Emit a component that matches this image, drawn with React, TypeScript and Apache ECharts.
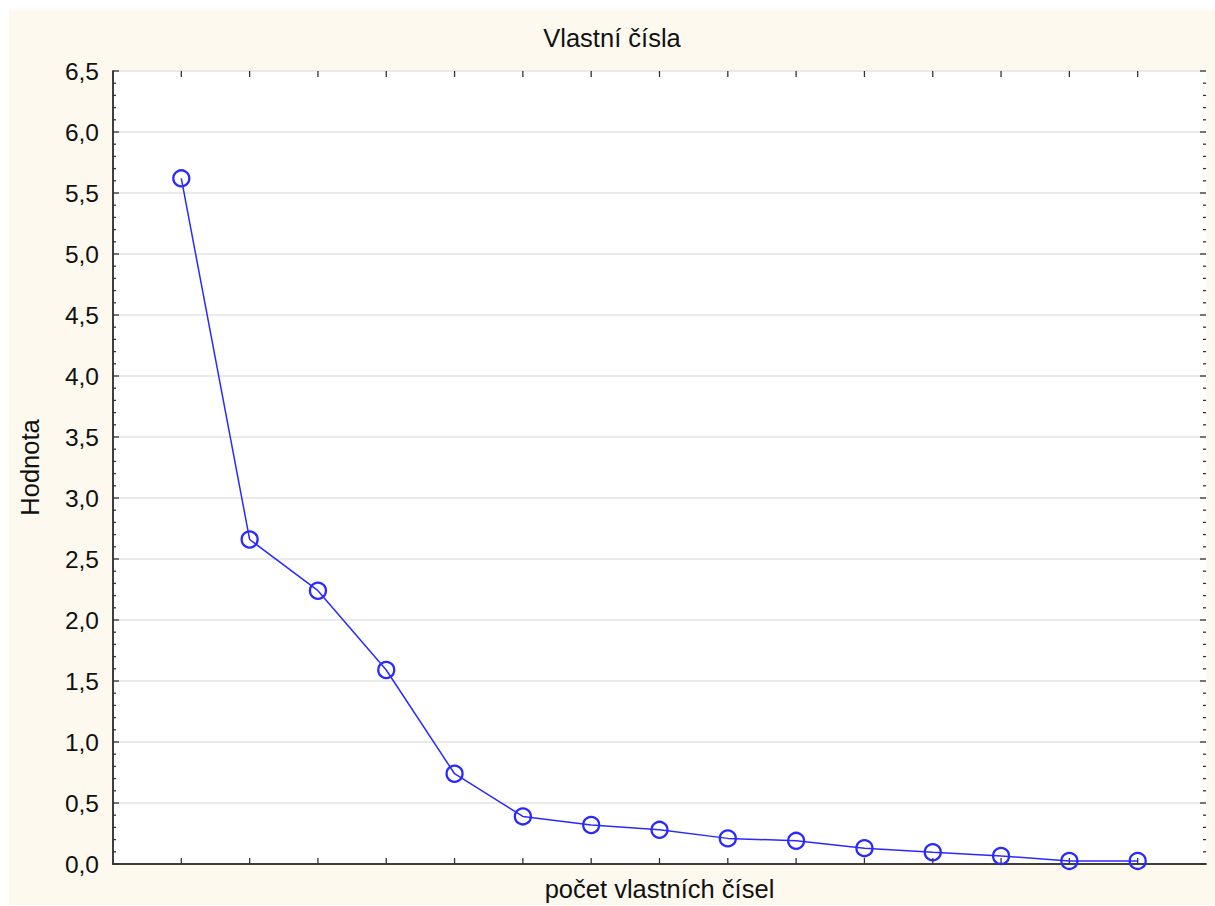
import React, { useEffect, useRef } from "react";
import * as echarts from "echarts";

const componentNumbers = [1, 2, 3, 4, 5, 6, 7, 8, 9, 10, 11, 12, 13, 14, 15];
const eigenvalues = [5.62, 2.66, 2.24, 1.59, 0.74, 0.39, 0.32, 0.28, 0.21, 0.19, 0.13, 0.096, 0.066, 0.025, 0.025];
const yTickValues = [0, 0.5, 1, 1.5, 2, 2.5, 3, 3.5, 4, 4.5, 5, 5.5, 6, 6.5];
const chartTitle = "Vlastní čísla";
const xAxisName = "počet vlastních čísel";
const yAxisName = "Hodnota";

const X_MIN = 0;
const X_MAX = 16;
const Y_MIN = 0;
const Y_MAX = 6.5;

const fmt = (v: number) => v.toFixed(1).replace(".", ",");

export default function App() {
  const ref = useRef<HTMLDivElement>(null);
  useEffect(() => {
    if (!ref.current) return;
    const chart = echarts.init(ref.current, undefined, { renderer: "svg" });
    const font = "Arial, 'Liberation Sans', sans-serif";
    const axisColor = "#333333";
    const axisLine = () => ({ show: true, lineStyle: { color: axisColor, width: 1.5 } });

    // inward tick marks, positioned through the axes' scales
    const tickData: number[][] = [];
    componentNumbers.forEach((v) => tickData.push([0, v, 6]));
    yTickValues.forEach((v, i) => {
      tickData.push([1, v, 6]);
      if (i < yTickValues.length - 1) {
        for (let k = 1; k < 5; k++) tickData.push([1, +(v + k * 0.1).toFixed(2), 3]);
      }
    });

    chart.setOption({
      animation: false,
      backgroundColor: "#fdf9ef",
      title: {
        text: chartTitle,
        left: "center",
        top: 15,
        padding: 0,
        textStyle: { fontFamily: font, fontSize: 25.5, fontWeight: "normal", color: "#111" },
      },
      grid: {
        left: 104, right: 9, top: 61, bottom: 41,
        backgroundColor: "#ffffff", show: true, borderWidth: 0,
        outerBoundsMode: "none", containLabel: false,
      },
      xAxis: [
        {
          type: "value",
          min: X_MIN,
          max: X_MAX,
          interval: 1,
          position: "bottom",
          name: xAxisName,
          nameLocation: "middle",
          nameGap: 12,
          nameTextStyle: { fontFamily: font, fontSize: 25.5, color: "#111" },
          axisLine: axisLine(),
          axisTick: { show: false },
          axisLabel: { show: false },
          splitLine: { show: false },
        },
        {
          type: "value",
          min: X_MIN,
          max: X_MAX,
          interval: 1,
          position: "top",
          axisLine: axisLine(),
          axisTick: { show: false },
          axisLabel: { show: false },
          splitLine: { show: false },
        },
      ],
      yAxis: [
        {
          type: "value",
          min: Y_MIN,
          max: Y_MAX,
          interval: 0.5,
          position: "left",
          name: yAxisName,
          nameLocation: "middle",
          nameGap: 70,
          nameRotate: 90,
          nameTextStyle: { fontFamily: font, fontSize: 25.5, color: "#111" },
          axisLine: axisLine(),
          axisTick: { show: false },
          axisLabel: { fontFamily: font, fontSize: 24.5, color: "#111", margin: 14, formatter: fmt },
          splitLine: { show: true, lineStyle: { color: "#e3e3e3", width: 1.5 } },
        },
        {
          type: "value",
          min: Y_MIN,
          max: Y_MAX,
          interval: 0.5,
          position: "right",
          axisLine: axisLine(),
          axisTick: { show: false },
          axisLabel: { show: false },
          splitLine: { show: false },
        },
      ],
      series: [
        {
          type: "custom",
          xAxisIndex: 0,
          yAxisIndex: 0,
          silent: true,
          clip: false,
          z: 3,
          data: tickData,
          renderItem: (params: any, api: any) => {
            const kind = api.value(0);
            const v = api.value(1);
            const len = api.value(2);
            const style = { stroke: axisColor, lineWidth: 1.3 };
            if (kind === 0) {
              const b = api.coord([v, Y_MIN]);
              const t = api.coord([v, Y_MAX]);
              return {
                type: "group",
                children: [
                  { type: "line", shape: { x1: b[0], y1: b[1], x2: b[0], y2: b[1] - len }, style },
                  { type: "line", shape: { x1: t[0], y1: t[1], x2: t[0], y2: t[1] + len }, style },
                ],
              };
            }
            const l = api.coord([X_MIN, v]);
            const r = api.coord([X_MAX, v]);
            return {
              type: "group",
              children: [
                { type: "line", shape: { x1: l[0], y1: l[1], x2: l[0] + len, y2: l[1] }, style },
                { type: "line", shape: { x1: r[0], y1: r[1], x2: r[0] - len, y2: r[1] }, style },
              ],
            };
          },
        },
        {
          type: "line",
          xAxisIndex: 0,
          yAxisIndex: 0,
          data: componentNumbers.map((n, i) => [n, eigenvalues[i]]),
          symbol: "circle",
          symbolSize: 16,
          lineStyle: { color: "#2a2aff", width: 1.5 },
          itemStyle: { color: "rgba(0,0,0,0)", borderColor: "#2a2aff", borderWidth: 2.3 },
          z: 5,
        },
      ],
    });
    return () => chart.dispose();
  }, []);
  return (
    <div style={{ position: "absolute", left: 0, top: 0, width: 1215, height: 906, background: "#fff" }}>
      <div ref={ref} style={{ position: "absolute", left: 9, top: 10, width: 1206, height: 895 }} />
    </div>
  );
}
